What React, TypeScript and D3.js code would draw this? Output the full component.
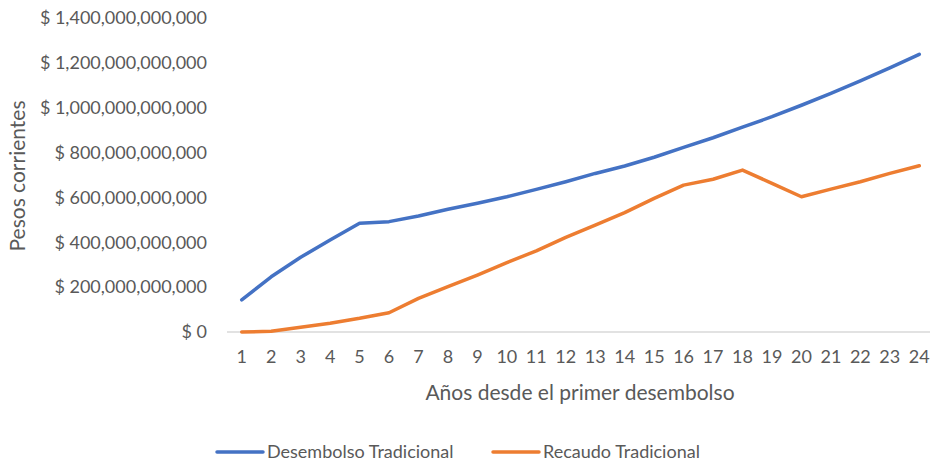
import React from "react";
import * as d3 from "d3";

const years = [1,2,3,4,5,6,7,8,9,10,11,12,13,14,15,16,17,18,19,20,21,22,23,24];
const desembolso = [143,246,333,410,485,492,517,547,574,603,636,670,707,740,779,823,866,913,960,1011,1064,1120,1178,1238].map(v => v * 1e9);
const recaudo = [0,3,21,39,61,86,150,202,254,309,362,422,477,532,596,655,681,722,663,603,637,670,707,741].map(v => v * 1e9);
const yTicks = [0,200,400,600,800,1000,1200,1400].map(v => v * 1e9);
const seriesNames = ["Desembolso Tradicional", "Recaudo Tradicional"];
const colors = ["#4472C4", "#ED7D31"];

const W = 930, H = 463;
const FONT = "Lato, 'Open Sans', sans-serif";

export default function App() {
  const x = d3.scaleBand<number>().domain(years).range([227, 934]);
  const y = d3.scaleLinear().domain([0, 1400e9]).range([332, 18]);
  const cx = (d: number) => (x(d) as number) + x.bandwidth() / 2;
  const line = d3.line<number>().x((_, i) => cx(years[i])).y(v => y(v));
  const fmt = (v: number) => v === 0 ? "$ 0" : "$ " + d3.format(",.0f")(v);
  const series = [desembolso, recaudo];
  return (
    <svg width={W} height={H} style={{ position: "absolute", left: 0, top: 0, background: "#fff" }} fontFamily={FONT}>
      <line x1={227} x2={934} y1={y(0)} y2={y(0)} stroke="#d9d9d9" strokeWidth={1.5} />
      {yTicks.map(t => (
        <text key={t} x={207} y={y(t)} dy="0.35em" textAnchor="end" fontSize={18} fill="#595959">{fmt(t)}</text>
      ))}
      {years.map(yr => (
        <text key={yr} x={cx(yr)} y={357} dy="0.35em" textAnchor="middle" fontSize={18} fill="#595959">{yr}</text>
      ))}
      <text x={580} y={393} dy="0.35em" textAnchor="middle" fontSize={21} fill="#595959">Años desde el primer desembolso</text>
      <text transform={`translate(18,176) rotate(-90)`} textAnchor="middle" dy="0.35em" fontSize={21} fill="#595959">Pesos corrientes</text>
      {series.map((s, i) => (
        <path key={i} d={line(s) || ""} fill="none" stroke={colors[i]} strokeWidth={3.5} strokeLinejoin="round" strokeLinecap="round" />
      ))}
      {[217, 493].map((lx, i) => (
        <g key={i}>
          <line x1={lx} x2={lx + 46} y1={452} y2={452} stroke={colors[i]} strokeWidth={3.5} strokeLinecap="round" />
          <text x={lx + 50} y={452} dy="0.35em" fontSize={18} fill="#595959">{seriesNames[i]}</text>
        </g>
      ))}
    </svg>
  );
}
